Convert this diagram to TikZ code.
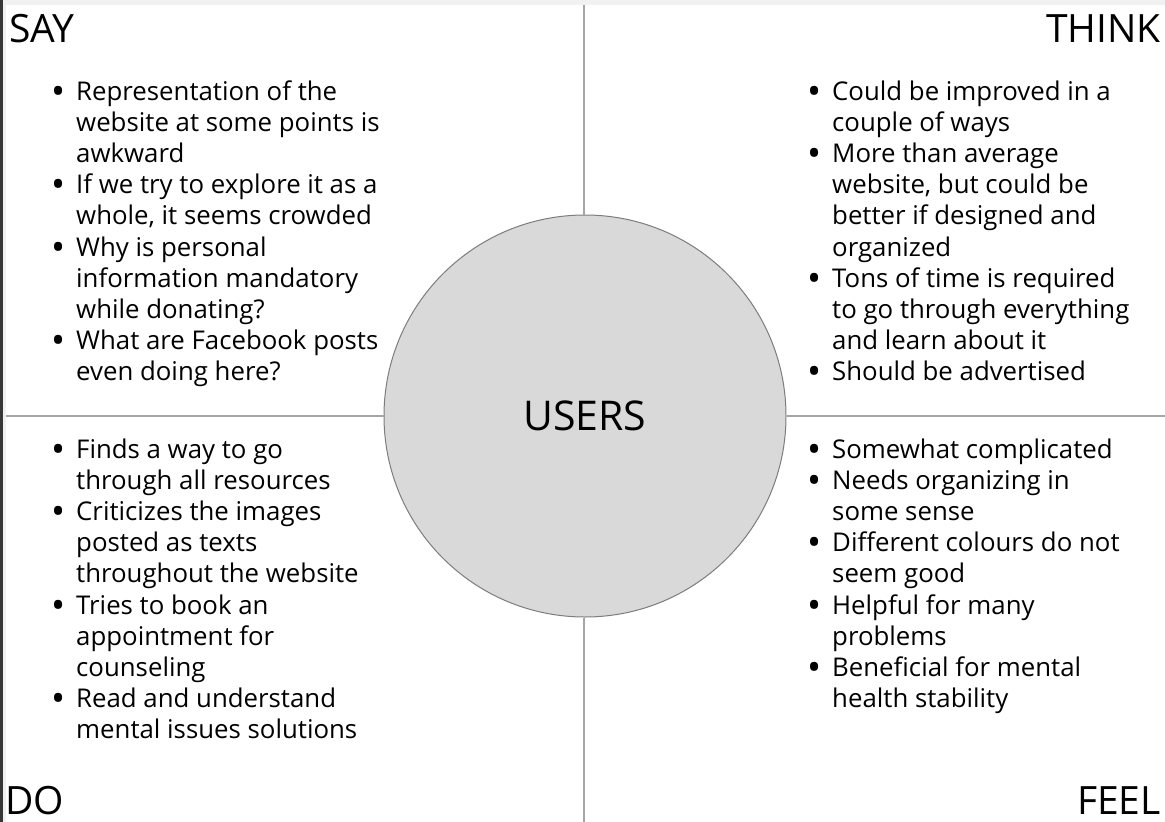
\documentclass[tikz,border=0pt]{standalone}
\usepackage{fontspec}
\setmainfont{Open Sans}
\usetikzlibrary{positioning}
\definecolor{map_line}{RGB}{165, 165, 165}
\definecolor{map_fill}{RGB}{217, 217, 217}
\definecolor{map_edge}{RGB}{125, 125, 125}
\definecolor{map_strip}{RGB}{241, 241, 241}
\definecolor{map_dark}{RGB}{55, 55, 55}
\newcommand{\mapdot}{\makebox[24pt][l]{\hspace{-1pt}\smash{\raisebox{-4pt}{\scalebox{1.45}{\textbullet}}}}}
\newcommand{\mapitems}[1]{{\fontsize{25.8}{31.2}\selectfont
  \begin{tabular}{@{}l@{}l@{}}#1\end{tabular}}}

\begin{document}
\begin{tikzpicture}[x=1pt, y=-1pt,
    heading/.style={inner sep=0pt, font=\fontsize{39}{39}\selectfont},
    itemlist/.style={inner sep=0pt, anchor=north west, align=left},
    divider/.style={map_line, line width=1.5pt}]
  % fond et bords
  \fill[white] (0,0) rectangle (1165,822);
  \useasboundingbox (0,0) rectangle (1165,822);
  \fill[map_strip] (0,0) rectangle (1165,5);
  \fill[map_strip] (0,0) rectangle (6,822);
  \fill[map_dark] (0,0) rectangle (3,822);
  % cercle central
  \node[circle, draw=map_edge, fill=map_fill, line width=1pt,
    minimum size=402pt, inner sep=0pt,
    font=\fontsize{41}{41}\selectfont] (users) at (585,416) {USERS};
  % axes
  \coordinate (axis_top) at (584,5);
  \coordinate (axis_bottom) at (584,822);
  \coordinate (axis_left) at (6,416);
  \coordinate (axis_right) at (1165,416);
  \draw[divider] (axis_top) -- (users.north -| axis_top);
  \draw[divider] (users.south -| axis_bottom) -- (axis_bottom);
  \draw[divider] (axis_left) -- (users.west);
  \draw[divider] (users.east) -- (axis_right);
  % titres des quadrants
  \node[heading, anchor=base west] (say) at (9,42) {SAY};
  \node[heading, anchor=base east] (think) at (1161,42) {THINK};
  \node[heading, anchor=base west] (do) at (5,814) {DO};
  \node[heading, anchor=base east] (feel) at (1161,814) {FEEL};
  % listes
  \node[itemlist] (say_list) at (52,78) {\mapitems{
    \mapdot & Representation of the \\
    & website at some points is \\
    & awkward \\
    \mapdot & If we try to explore it as a \\
    & whole, it seems crowded \\
    \mapdot & Why is personal \\
    & information mandatory \\
    & while donating? \\
    \mapdot & What are Facebook posts \\
    & even doing here?}};
  \node[itemlist] (think_list) at (808,78) {\mapitems{
    \mapdot & Could be improved in a \\
    & couple of ways \\
    \mapdot & More than average \\
    & website, but could be \\
    & better if designed and \\
    & organized \\
    \mapdot & Tons of time is required \\
    & to go through everything \\
    & and learn about it \\
    \mapdot & Should be advertised}};
  \node[itemlist] (do_list) at (52,436) {\mapitems{
    \mapdot & Finds a way to go \\
    & through all resources \\
    \mapdot & Criticizes the images \\
    & posted as texts \\
    & throughout the website \\
    \mapdot & Tries to book an \\
    & appointment for \\
    & counseling \\
    \mapdot & Read and understand \\
    & mental issues solutions}};
  \node[itemlist] (feel_list) at (808,436) {\mapitems{
    \mapdot & Somewhat complicated \\
    \mapdot & Needs organizing in \\
    & some sense \\
    \mapdot & Different colours do not \\
    & seem good \\
    \mapdot & Helpful for many \\
    & problems \\
    \mapdot & Beneficial for mental \\
    & health stability}};
\end{tikzpicture}
\end{document}
